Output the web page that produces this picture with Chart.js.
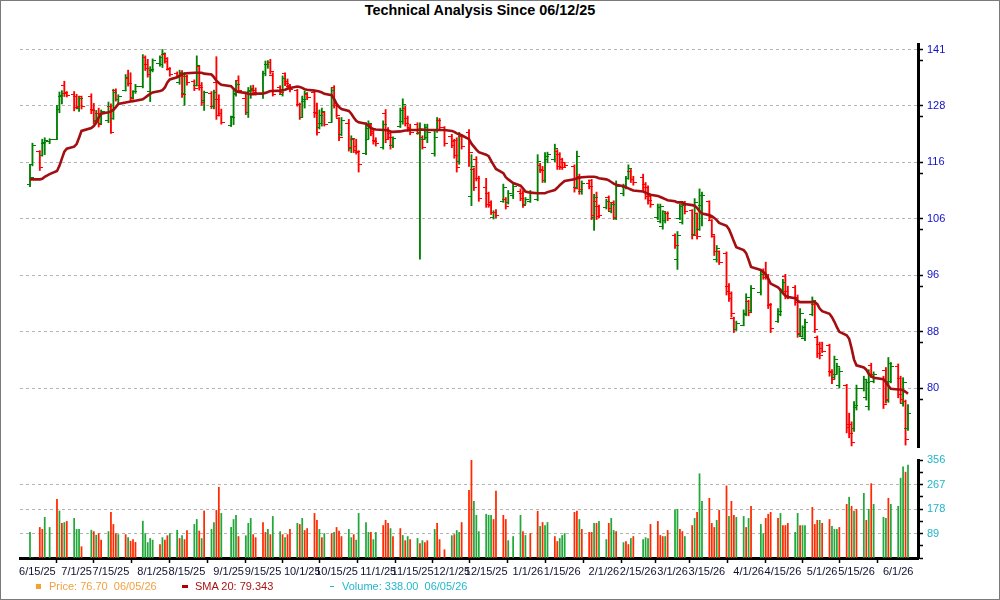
<!DOCTYPE html>
<html>
<head>
<meta charset="utf-8">
<script src="https://cdn.jsdelivr.net/npm/chart.js@4.4.1/dist/chart.umd.min.js"></script>
<style>
  body { margin: 0; background: #fff; }
  #wrap { position: relative; width: 1000px; height: 600px; overflow: hidden; font-family: 'Liberation Sans', Arial, sans-serif; }
  #frame { position: absolute; left: 0; top: 0; width: 1000px; height: 600px; box-sizing: border-box; border: 1px solid #7a7a7a; }
  canvas { position: absolute; left: 0; top: 0; }
  #title { position: absolute; left: 0; top: 2px; width: 960px; text-align: center; font-weight: bold; font-size: 14.4px; color: #000; }
  .lg { position: absolute; top: 579px; font-size: 11px; line-height: 15px; white-space: pre; }
  .mk { position: absolute; }
</style>
</head>
<body>
<div id="wrap">
  <div id="frame"></div>
  <div id="title">Technical Analysis Since 06/12/25</div>
  <canvas id="price" width="1000" height="600"></canvas>
  <canvas id="volume" width="1000" height="600"></canvas>
  <div class="mk" style="left:36px;top:584px;width:5px;height:5px;background:#f5a035"></div>
  <div class="lg" id="lgPrice" style="left:49px;color:#f2a040"></div>
  <div class="mk" style="left:182px;top:585px;width:6px;height:3px;background:#b00000"></div>
  <div class="lg" id="lgSma" style="left:195px;color:#a81414"></div>
  <div class="mk" style="left:330px;top:586px;width:4px;height:1px;background:#20b8c8"></div>
  <div class="lg" id="lgVol" style="left:342px;color:#22b8cc"></div>
</div>
<script>
// trading calendar
const startDate = '2025-06-12';
const endDate = '2026-06-05';
const holidays = ['2025-06-19', '2025-07-04', '2025-09-01', '2025-11-27', '2025-12-25',
  '2026-01-01', '2026-01-19', '2026-02-16', '2026-04-03', '2026-05-25'];

const tickLabels = ['6/15/25', '7/1/25', '7/15/25', '8/1/25', '8/15/25', '9/1/25', '9/15/25',
  '10/1/25', '10/15/25', '11/1/25', '11/15/25', '12/1/25', '12/15/25', '1/1/26', '1/15/26',
  '2/1/26', '2/15/26', '3/1/26', '3/15/26', '4/1/26', '4/15/26', '5/1/26', '5/15/26', '6/1/26'];

const priceTicks = [80.1, 88.04, 96.77, 106.36, 116.9, 128.5, 141.2];
const priceTickLabels = ['80', '88', '96', '106', '116', '128', '141'];
const volumeTicks = [89, 178, 267, 356];

const opens = [
  112.7,116.4,119.0,118.3,120.6,121.0,121.5,127.8,130.4,133.0,
  131.2,130.9,130.5,128.0,130.4,130.6,127.6,125.3,126.8,124.8,
  125.4,128.3,125.8,131.8,129.8,131.9,134.6,133.3,130.3,131.5,
  132.8,139.4,137.6,131.5,136.4,138.0,137.8,140.0,139.0,136.6,
  135.6,133.6,135.6,131.2,134.9,133.8,133.0,137.2,133.0,129.6,
  131.2,128.4,133.5,129.8,126.8,124.4,126.2,131.0,134.0,130.0,
  127.0,131.6,132.2,131.8,131.0,135.6,137.6,138.2,135.2,132.4,
  131.0,135.6,133.8,132.8,131.8,128.8,126.0,129.5,131.0,131.3,
  127.0,124.0,124.8,127.0,125.0,132.6,128.6,125.8,122.5,124.8,
  119.6,121.5,120.0,118.8,118.6,121.5,124.5,123.0,121.3,119.8,
  126.8,123.4,122.6,120.2,124.2,125.2,128.0,125.8,124.0,124.5,
  122.6,121.8,121.5,121.8,118.6,123.2,125.4,123.9,122.0,121.0,
  121.2,117.0,122.0,122.8,110.4,115.4,117.5,113.8,112.0,111.0,
  109.2,106.6,107.5,109.5,109.9,109.2,110.5,111.4,111.0,109.0,
  109.5,109.8,116.3,115.5,113.3,117.5,117.5,119.0,118.4,117.4,
  116.8,116.0,112.0,114.2,111.4,112.8,113.3,106.5,109.5,108.5,
  108.3,110.2,107.6,109.2,106.4,111.0,112.0,113.8,115.2,113.6,
  114.0,112.6,112.0,110.3,106.6,105.9,105.0,106.0,107.2,103.4,
  99.3,106.4,105.6,109.0,107.8,103.5,107.2,104.5,108.8,109.4,
  106.0,103.2,99.4,100.6,100.3,95.0,93.8,90.0,88.4,89.0,
  90.6,92.6,91.2,94.0,97.6,97.2,96.6,92.0,89.5,90.6,
  94.3,96.5,94.2,94.8,93.2,87.6,87.3,87.0,90.6,92.2,
  87.2,86.2,85.6,86.0,82.4,81.5,82.0,80.5,80.4,75.4,
  75.3,74.8,77.5,80.0,78.8,77.6,83.2,81.0,81.4,82.5,
  78.5,81.0,83.0,81.4,78.0,78.3,74.8
];
const highs = [
  116.4,120.7,119.2,121.5,121.8,121.6,128.6,131.5,131.8,133.9,
  131.6,131.6,131.0,130.6,130.6,131.1,129.0,127.5,128.0,127.6,
  129.3,128.9,132.1,132.2,130.9,135.4,136.4,135.8,131.8,133.2,
  140.0,139.7,138.9,137.2,139.0,139.7,141.2,140.4,139.3,137.0,
  136.0,136.4,136.3,135.9,135.3,134.2,139.7,137.5,133.6,131.7,
  131.6,131.9,139.5,130.9,127.8,126.3,131.9,133.9,135.1,131.4,
  132.5,132.9,133.0,132.4,136.2,138.5,138.6,138.9,135.8,132.9,
  135.1,135.8,134.4,133.2,132.1,129.1,130.6,131.7,131.4,131.7,
  129.1,127.6,128.0,127.3,132.5,132.9,128.7,126.0,126.0,125.6,
  122.2,121.5,121.5,119.2,124.9,125.3,124.6,123.5,121.8,125.3,
  127.7,123.9,123.2,122.0,128.0,130.0,128.4,126.3,124.6,124.9,
  124.9,122.2,124.6,124.6,123.2,126.0,125.8,124.1,122.5,121.5,
  121.8,122.9,122.4,123.5,118.4,115.8,118.0,114.2,113.8,111.2,
  109.6,107.8,108.0,112.7,110.2,111.5,112.7,111.8,111.5,110.2,
  111.5,118.4,116.7,116.1,118.8,118.9,120.5,119.4,118.8,117.7,
  116.9,116.4,119.1,114.6,113.3,113.5,113.6,110.8,111.2,108.8,
  109.9,110.5,109.3,109.6,113.3,112.7,114.2,116.4,115.5,114.2,
  114.6,113.0,112.4,110.8,109.0,109.0,107.8,107.5,107.6,103.7,
  104.1,109.0,109.3,109.5,108.0,110.0,107.4,111.8,111.2,109.6,
  106.2,103.4,101.7,100.8,100.6,95.4,94.1,90.2,89.6,91.3,
  93.8,92.8,95.1,97.5,97.8,98.9,96.9,92.3,91.5,94.6,
  96.1,96.9,95.0,95.1,93.6,91.5,88.9,89.9,93.3,92.5,
  87.4,86.5,86.5,86.2,82.6,84.5,83.5,82.9,80.6,76.8,
  75.7,78.3,80.5,81.7,81.3,82.6,83.5,82.3,81.7,82.9,
  84.3,83.6,83.4,81.7,81.5,78.5,77.9
];
const lows = [
  112.2,116.2,115.3,118.1,118.4,120.6,121.4,127.0,128.9,130.5,
  130.4,127.4,127.8,127.3,127.8,126.8,124.7,125.0,124.0,124.6,
  124.9,122.7,125.6,129.5,129.0,131.7,132.8,129.6,129.9,131.2,
  132.4,136.3,134.8,129.4,136.0,137.3,137.0,138.0,136.4,135.0,
  134.8,133.2,130.3,128.6,133.0,131.8,132.8,131.9,128.6,127.5,
  127.9,127.8,125.6,126.3,124.6,124.1,124.5,130.6,131.4,126.6,
  126.0,130.1,130.9,130.8,130.1,135.1,136.8,135.5,130.6,131.0,
  130.6,132.9,132.5,131.5,128.4,125.6,126.0,128.0,129.8,126.0,
  122.3,123.6,124.2,124.2,125.0,128.0,126.0,121.2,122.2,119.1,
  118.8,118.8,118.5,115.0,118.4,121.5,122.2,120.5,120.1,119.5,
  120.8,121.5,119.5,119.8,123.9,124.6,124.2,123.2,122.4,122.5,
  99.4,119.5,121.5,120.8,118.1,122.9,123.6,120.1,119.8,117.7,
  115.0,116.5,119.5,116.1,108.7,111.5,113.3,109.5,108.4,108.4,
  107.1,106.3,106.5,109.3,108.1,109.0,110.0,109.6,108.4,109.0,
  109.3,109.6,114.9,113.0,113.0,116.8,117.0,115.5,115.5,115.5,
  115.9,111.2,111.8,110.8,110.8,111.8,106.2,104.3,106.2,106.5,
  108.1,107.8,107.4,106.2,106.2,110.5,111.8,113.6,113.0,112.5,
  111.5,109.9,109.0,108.4,106.2,105.6,104.5,105.6,106.0,101.2,
  97.7,106.2,105.4,107.2,102.8,103.4,102.8,104.3,105.1,106.0,
  103.1,100.0,98.9,98.5,93.6,92.6,90.2,87.9,88.2,88.9,
  90.4,90.4,91.0,93.6,96.1,96.1,91.5,87.9,89.4,90.4,
  94.1,93.0,93.0,92.0,87.2,87.4,87.2,86.7,90.4,87.9,
  84.3,84.1,85.0,81.7,80.7,81.3,82.0,80.1,74.3,73.7,
  72.7,74.5,77.2,79.7,78.5,77.2,81.5,80.8,77.4,78.1,
  78.2,80.8,78.8,78.1,77.7,72.8,74.6
];
const closes = [
  114.0,120.2,115.8,120.9,121.3,121.4,127.8,130.8,131.2,131.3,
  130.8,128.1,128.4,130.0,128.3,127.5,125.2,126.9,124.6,127.2,
  128.4,122.9,131.3,129.9,130.4,134.8,133.3,130.1,131.5,132.8,
  139.2,136.7,135.3,136.5,138.6,139.3,140.3,138.4,136.7,135.3,
  135.1,135.9,131.0,135.0,133.5,132.2,137.4,132.4,129.3,131.4,
  128.3,131.4,126.4,126.8,125.0,126.0,131.2,133.2,131.8,127.0,
  131.8,132.0,131.4,131.2,135.6,137.8,138.2,136.0,131.0,131.3,
  134.4,133.4,132.9,132.0,128.7,126.0,129.8,131.2,130.2,126.8,
  122.9,126.5,127.2,124.6,131.8,128.6,126.4,121.8,125.3,119.8,
  121.6,119.3,119.0,116.5,123.8,124.8,122.6,121.0,120.6,124.5,
  121.4,121.9,120.2,121.6,127.4,128.8,124.8,123.6,122.8,122.9,
  123.3,119.9,124.0,122.8,121.8,125.4,124.0,120.6,120.3,118.2,
  115.8,122.0,120.0,118.8,116.0,112.0,113.8,110.0,108.9,108.8,
  107.5,107.4,106.9,112.0,108.5,111.0,112.2,110.0,108.8,109.8,
  111.0,117.0,115.3,113.4,118.0,118.4,119.6,116.0,115.9,115.9,
  116.2,111.8,118.0,111.6,112.8,112.2,107.0,110.2,106.7,107.0,
  109.5,108.2,108.9,106.6,112.3,112.3,113.8,115.6,113.5,113.0,
  112.0,110.4,109.6,108.9,108.4,108.6,107.6,107.2,106.4,101.7,
  103.4,108.6,108.8,107.6,103.4,109.2,103.3,110.6,110.5,106.5,
  103.6,100.6,101.2,98.9,94.2,93.0,90.7,88.3,89.2,90.8,
  93.2,90.9,94.6,96.9,96.4,96.6,92.2,88.5,91.0,94.0,
  95.6,93.5,93.4,92.4,87.8,90.8,88.6,89.4,92.8,88.4,
  84.8,84.6,85.2,82.2,81.2,84.0,83.0,82.4,75.0,74.2,
  73.1,77.8,80.0,81.2,80.8,82.0,81.9,82.0,77.9,78.6,
  83.5,83.0,79.3,78.6,80.8,73.5,76.7
];
const sma20 = [
  113.6,113.6,113.6,113.7,114.1,114.6,115.2,116.2,117.6,119.0,
  119.6,120.0,120.5,121.8,123.2,123.8,124.2,124.9,126.0,126.8,
  127.1,127.3,127.6,128.2,128.9,129.2,129.3,129.4,129.5,129.6,
  129.9,130.3,130.7,131.1,131.4,131.7,131.9,132.5,133.6,134.3,
  134.8,135.1,135.4,135.6,135.7,135.8,135.8,135.8,135.8,135.6,
  135.4,134.8,134.0,133.5,133.1,132.8,132.2,131.7,131.5,131.3,
  131.1,131.0,131.0,131.1,131.2,131.3,131.5,131.7,131.7,131.8,
  131.9,132.0,132.2,132.4,132.7,132.6,132.4,132.1,132.0,131.8,
  131.7,131.6,131.4,131.1,130.8,130.0,128.9,128.2,127.8,127.4,
  126.8,126.0,125.3,125.0,124.7,124.3,123.8,123.6,123.5,123.4,
  123.4,123.3,123.1,123.0,123.1,123.2,123.3,123.3,123.4,123.4,
  123.5,123.5,123.4,123.4,123.4,123.4,123.4,123.4,123.2,123.0,
  122.7,122.5,122.3,121.5,120.6,120.0,119.4,118.9,118.4,118.1,
  117.2,116.4,115.6,114.8,114.0,113.6,112.9,112.4,111.9,111.3,
  111.1,111.0,111.0,111.0,111.0,111.2,111.6,112.0,112.5,112.9,
  113.3,113.6,113.8,113.9,114.0,114.1,114.1,114.1,114.0,113.8,
  113.6,113.4,113.1,112.8,112.6,112.3,112.1,111.9,111.7,111.5,
  111.3,111.1,110.9,110.7,110.5,110.3,110.1,109.9,109.7,109.5,
  109.3,109.3,109.3,109.0,108.8,108.7,108.3,107.7,107.3,107.0,
  106.8,106.5,106.1,105.6,105.1,104.5,103.5,102.4,101.4,100.9,
  100.4,99.3,98.1,97.6,97.3,96.9,96.2,95.4,94.8,94.4,
  93.9,93.5,93.3,93.1,92.7,92.5,92.5,92.5,92.5,92.5,
  92.2,91.5,91.1,90.7,90.2,89.5,88.7,88.0,87.5,87.0,
  85.6,84.0,83.2,82.9,82.6,82.0,81.7,81.5,81.3,80.9,
  80.4,80.0,79.9,79.9,79.8,79.6,79.343
];
const volume = [
  93,0,111,104,148,111,213,171,126,129,
  133,144,104,104,41,101,96,83,89,65,
  96,166,122,89,85,85,74,61,67,57,
  134,89,56,71,65,49,74,65,81,89,
  101,71,81,67,100,122,140,98,71,171,
  104,129,173,257,162,111,140,155,78,81,
  126,144,85,74,129,93,104,85,151,96,
  85,74,85,104,126,122,144,100,107,162,
  137,104,74,89,89,93,111,98,78,104,
  74,85,65,162,129,93,93,67,93,118,
  137,126,107,78,107,82,63,78,67,71,
  52,63,56,63,104,126,67,30,81,85,
  100,93,129,246,356,206,155,96,159,155,
  155,140,243,155,140,63,78,155,96,82,
  89,170,115,129,118,129,78,60,71,82,
  89,166,170,140,104,93,93,126,126,133,
  67,126,144,100,96,56,60,49,71,78,
  67,74,71,122,133,82,78,78,100,174,
  177,104,96,78,118,144,166,306,206,217,
  126,111,137,173,262,151,206,155,148,151,
  111,144,188,122,89,144,159,166,144,162,
  118,118,126,93,162,118,118,118,184,122,
  137,137,126,140,115,104,104,111,195,221,
  188,170,177,235,137,177,270,195,148,144,
  217,195,188,290,331,312,338
];
// g = green volume bar, r = red volume bar
const volumeDir =
  'ggrrggrgrg' + 'rgggrgrgrr' + 'grrrgrgrrr' + 'gggggrgrrg' + 'grgrrggrgr' +
  'ggrrggggrg' + 'ggrrrrgrgg' + 'rgrrgrgrrr' + 'rgrgrgrrrg' + 'grggggrggr' +
  'rrgrrgrgrg' + 'rgrrgrrrgr' + 'ggrrrggggg' + 'grrrrgggrg' + 'rrgrggrrgg' +
  'grrgrrrgrg' + 'grggrgrrgr' + 'gggrrrrgrg' + 'grrgrgrggr' + 'rrgrrgrrgg' +
  'rgrggrrrrg' + 'rrrggrggrr' + 'rgrrgggrrg' + 'rgrgrgrggg' + 'rggggrg';

// ---- build x positions (calendar days since start, trading days only)
const DAY = 86400000;
const t0 = Date.parse(startDate + 'T00:00:00Z');
const tEnd = Date.parse(endDate + 'T00:00:00Z');
const tradeDays = [];
for (let t = t0; t <= tEnd; t += DAY) {
  const dt = new Date(t);
  const wd = dt.getUTCDay();
  if (wd === 0 || wd === 6) continue;
  if (holidays.includes(dt.toISOString().slice(0, 10))) continue;
  tradeDays.push((t - t0) / DAY);
}
const tickDays = tickLabels.map(s => {
  const [m, d, y] = s.split('/').map(Number);
  return (Date.UTC(2000 + y, m - 1, d) - t0) / DAY;
});
const xMin = tradeDays[0] - 4.08;
const xMax = tradeDays[tradeDays.length - 1] + 4.08;

const GREEN = '#008000', RED = '#ff0000';
const VGREEN = '#22a83a', VRED = '#ff2a00';
const GRID = '#b4b4b4';
const font = { family: "'Liberation Sans', Arial, sans-serif", size: 11 };
const up = closes.map((c, i) => c >= opens[i]);

function tickMark(color, side) {
  const c = document.createElement('canvas');
  c.width = 7; c.height = 1;
  const g = c.getContext('2d');
  g.fillStyle = color;
  g.fillRect(side === 'left' ? 0 : 3, 0, 4, 1);
  return c;
}
const openMark = { g: tickMark(GREEN, 'left'), r: tickMark(RED, 'left') };
const closeMark = { g: tickMark(GREEN, 'right'), r: tickMark(RED, 'right') };

const priceAxisTicks = [];
priceTicks.forEach(v => { priceAxisTicks.push(v); priceAxisTicks.push(v * 0.9818); });
const volAxisTicks = [0];
volumeTicks.forEach(v => { volAxisTicks.push(v - 44.5); volAxisTicks.push(v); });

// ---- price panel
new Chart(document.getElementById('price'), {
  type: 'bar',
  data: {
    datasets: [
      {
        type: 'line', label: 'SMA 20',
        data: tradeDays.map((d, i) => ({ x: d, y: sma20[i] })),
        borderColor: '#a30e10', borderWidth: 2.6, pointRadius: 0, tension: 0, order: 0
      },
      {
        type: 'scatter', label: 'Open',
        data: tradeDays.map((d, i) => ({ x: d, y: opens[i] })),
        pointStyle: ctx => up[ctx.dataIndex] ? openMark.g : openMark.r, order: 1
      },
      {
        type: 'scatter', label: 'Close',
        data: tradeDays.map((d, i) => ({ x: d, y: closes[i] })),
        pointStyle: ctx => up[ctx.dataIndex] ? closeMark.g : closeMark.r, order: 1
      },
      {
        type: 'bar', label: 'Price',
        data: tradeDays.map((d, i) => ({ x: d, y: [lows[i], highs[i]] })),
        backgroundColor: ctx => up[ctx.dataIndex] ? GREEN : RED,
        barThickness: 1.2, order: 2
      }
    ]
  },
  options: {
    responsive: false, animation: false, events: [],
    layout: { padding: { left: 20, top: 44, right: 0, bottom: 153 } },
    plugins: { legend: { display: false }, tooltip: { enabled: false } },
    scales: {
      x: { type: 'linear', display: false, min: xMin, max: xMax, offset: false },
      y: {
        type: 'logarithmic', position: 'right', min: 72.57, max: 142.5,
        afterFit: s => { s.width = 82; },
        afterBuildTicks: s => { s.ticks = priceAxisTicks.map(v => ({ value: v })); },
        border: { display: true, color: '#000', width: 3, dash: [3, 3] },
        grid: {
          color: ctx => (ctx.tick && priceTicks.includes(ctx.tick.value)) ? GRID : 'rgba(0,0,0,0)',
          tickColor: '#000', tickLength: 5, tickWidth: 1.5, tickBorderDash: []
        },
        ticks: {
          color: '#1010c8', font: font, padding: 4, autoSkip: false,
          callback: v => { const k = priceTicks.indexOf(v); return k >= 0 ? priceTickLabels[k] : ''; }
        }
      }
    }
  }
});

// ---- volume panel
new Chart(document.getElementById('volume'), {
  type: 'bar',
  data: {
    datasets: [{
      label: 'Volume',
      data: tradeDays.map((d, i) => ({ x: d, y: volume[i] })),
      backgroundColor: ctx => volumeDir[ctx.dataIndex] === 'g' ? VGREEN : VRED,
      barThickness: 1.1
    }]
  },
  options: {
    responsive: false, animation: false, events: [],
    layout: { padding: { left: 20, top: 460, right: 0, bottom: 12 } },
    plugins: { legend: { display: false }, tooltip: { enabled: false } },
    scales: {
      x: {
        type: 'linear', position: 'bottom', min: xMin, max: xMax, offset: false,
        afterFit: s => { s.height = 30; },
        afterBuildTicks: s => { s.ticks = tickDays.map(v => ({ value: v })); },
        border: { display: true, color: '#000', width: 3 },
        grid: { drawOnChartArea: false, tickColor: '#000', tickLength: 5, tickWidth: 1.5 },
        ticks: {
          autoSkip: false, maxRotation: 0, minRotation: 0, color: '#101030', font: font, padding: 2,
          callback: (v, i) => tickLabels[i]
        }
      },
      y: {
        position: 'right', min: 0, max: 356,
        afterFit: s => { s.width = 82; },
        afterBuildTicks: s => { s.ticks = volAxisTicks.map(v => ({ value: v })); },
        border: { display: true, color: '#000', width: 3, dash: [3, 3] },
        grid: {
          color: ctx => (ctx.tick && [89, 178, 267].includes(ctx.tick.value)) ? GRID : 'rgba(0,0,0,0)',
          tickColor: '#000', tickLength: 5, tickWidth: 1.5, tickBorderDash: []
        },
        ticks: {
          color: '#1fb5c8', font: font, padding: 4, autoSkip: false,
          callback: v => volumeTicks.includes(v) ? String(v) : ''
        }
      }
    }
  }
});

// ---- legend text from the last values
const last = closes.length - 1;
const lastDate = new Date(t0 + tradeDays[last] * DAY);
const mmddyy = [lastDate.getUTCMonth() + 1, lastDate.getUTCDate(), lastDate.getUTCFullYear() % 100]
  .map(n => String(n).padStart(2, '0')).join('/');
document.getElementById('lgPrice').textContent = 'Price: ' + closes[last].toFixed(2) + '  ' + mmddyy;
document.getElementById('lgSma').textContent = 'SMA 20: ' + sma20[last];
document.getElementById('lgVol').textContent = 'Volume: ' + volume[last].toFixed(2) + '  ' + mmddyy;
</script>
</body>
</html>
